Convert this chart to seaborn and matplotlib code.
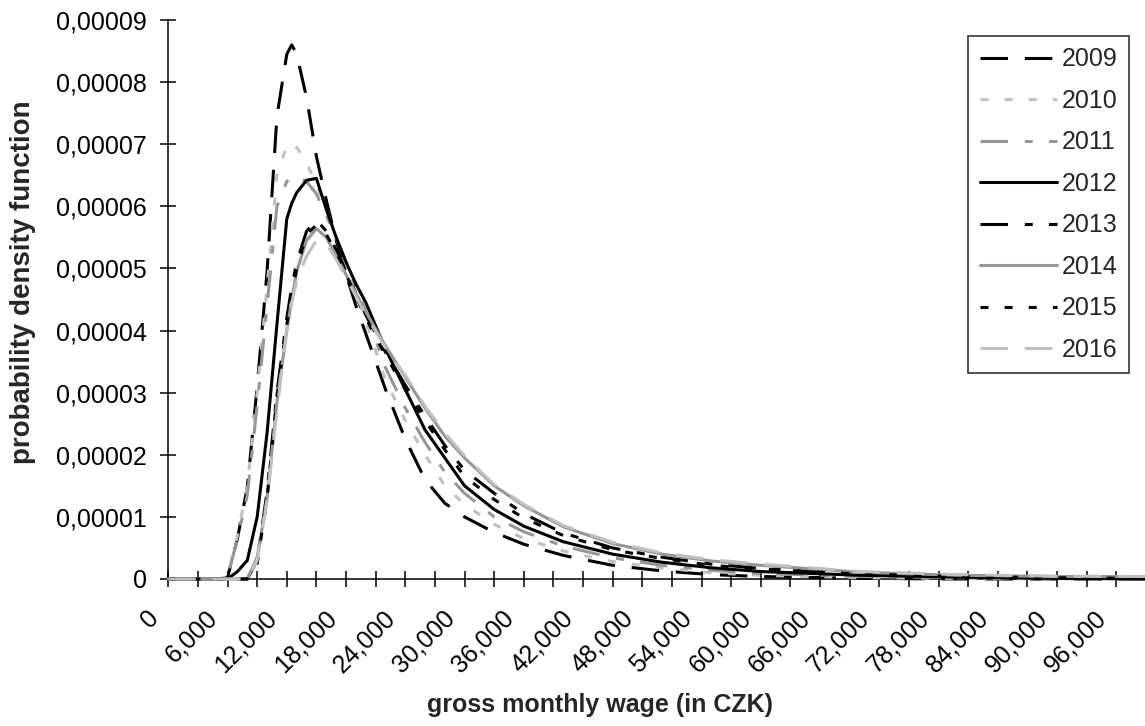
import numpy as np
import pandas as pd
import matplotlib
matplotlib.use("Agg")
import matplotlib.pyplot as plt
import matplotlib.transforms as mtransforms
from matplotlib.ticker import FuncFormatter, MultipleLocator
import seaborn as sns

# gross monthly wage grid (CZK)
wage = [0, 5000, 6000, 7000, 8000, 9000, 10000, 11000, 12000, 12500, 13000,
        14000, 15000, 16000, 17000, 18000, 19000, 20000, 22000, 24000, 26000,
        28000, 30000, 33000, 36000, 40000, 45000, 50000, 55000, 60000, 70000,
        80000, 90000, 100000]

# density values, in units of 1e-5
d2009 = [0, 0, 0.02, 0.65, 1.48, 3.1, 4.95, 7.45, 8.45, 8.6, 8.45, 7.75, 6.8,
         6.1, 5.45, 4.9, 4.4, 3.95, 3.05, 2.25, 1.6, 1.22, 1.0, 0.75, 0.56,
         0.38, 0.22, 0.13, 0.07, 0.04, 0.01, 0, 0, 0]
d2010 = [0, 0, 0.03, 0.7, 1.5, 3.0, 4.7, 6.5, 6.98, 7.02, 6.95, 6.7, 6.35,
         5.95, 5.5, 5.05, 4.6, 4.15, 3.2, 2.55, 2.0, 1.5, 1.2, 0.88, 0.65,
         0.45, 0.28, 0.18, 0.1, 0.06, 0.02, 0.01, 0, 0]
d2011 = [0, 0, 0.03, 0.65, 1.35, 2.8, 4.4, 6.0, 6.4, 6.46, 6.48, 6.4, 6.2,
         5.85, 5.5, 5.1, 4.7, 4.3, 3.4, 2.75, 2.2, 1.72, 1.38, 1.0, 0.76,
         0.53, 0.34, 0.22, 0.14, 0.09, 0.04, 0.02, 0.01, 0]
d2012 = [0, 0, 0, 0.12, 0.3, 1.0, 2.35, 4.1, 5.8, 6.05, 6.22, 6.42, 6.45,
         5.95, 5.5, 5.1, 4.75, 4.45, 3.7, 3.05, 2.4, 1.95, 1.5, 1.12, 0.85,
         0.6, 0.4, 0.27, 0.18, 0.12, 0.06, 0.03, 0.01, 0]
d2013 = [0, 0, 0, 0, 0, 0.3, 1.4, 3.0, 4.2, 4.7, 5.1, 5.6, 5.78, 5.6, 5.3,
         4.95, 4.6, 4.25, 3.65, 3.12, 2.62, 2.15, 1.75, 1.38, 1.05, 0.74, 0.5,
         0.35, 0.24, 0.17, 0.08, 0.04, 0.02, 0.01]
d2014 = [0, 0, 0, 0, 0, 0.35, 1.3, 2.85, 4.0, 4.5, 4.95, 5.45, 5.64, 5.5, 5.2,
         4.9, 4.6, 4.3, 3.75, 3.25, 2.75, 2.3, 1.95, 1.5, 1.18, 0.84, 0.57,
         0.4, 0.29, 0.22, 0.11, 0.06, 0.04, 0.04]
d2015 = [0, 0, 0, 0, 0, 0.25, 1.3, 2.95, 4.1, 4.6, 5.0, 5.55, 5.7, 5.55, 5.25,
         4.9, 4.55, 4.2, 3.6, 3.05, 2.55, 2.08, 1.65, 1.28, 0.98, 0.7, 0.47,
         0.33, 0.22, 0.16, 0.08, 0.04, 0.02, 0.01]
d2016 = [0, 0, 0, 0, 0, 0.3, 1.25, 2.7, 4.05, 4.45, 4.8, 5.2, 5.45, 5.4, 5.15,
         4.85, 4.55, 4.25, 3.72, 3.28, 2.78, 2.35, 1.98, 1.52, 1.2, 0.86, 0.59,
         0.42, 0.31, 0.24, 0.12, 0.07, 0.045, 0.04]

years = ["2009", "2010", "2011", "2012", "2013", "2014", "2015", "2016"]
series = [d2009, d2010, d2011, d2012, d2013, d2014, d2015, d2016]

BLACK, MID, LIGHT = "#000000", "#969696", "#c0c0c0"
palette = dict(zip(years, [BLACK, LIGHT, MID, BLACK, BLACK, MID, BLACK, LIGHT]))
long_dash = (9.0, 5.5)
short_dash = (2.6, 5.3)
dash_dot = (9.0, 5.5, 2.6, 5.3)
dashes = dict(zip(years, [long_dash, short_dash, dash_dot, "", dash_dot, "",
                          short_dash, long_dash]))

rows = []
for yr, vals in zip(years, series):
    for w, v in zip(wage, vals):
        rows.append({"wage": w, "density": v * 1e-5, "year": yr})
df = pd.DataFrame(rows)

sns.set_style("white")
plt.rcParams["font.family"] = ["Liberation Sans", "DejaVu Sans"]

fig = plt.figure(figsize=(11.45, 7.26), dpi=100)
ax = fig.add_axes([168.3 / 1145, 1 - 579 / 726, 1 - 168.3 / 1145, (579 - 20) / 726])

sns.lineplot(data=df, x="wage", y="density", hue="year", style="year",
             palette=palette, dashes=dashes, linewidth=2.2, legend=False,
             ax=ax, zorder=3, clip_on=False)

ax.set_xlim(0, 98900)
ax.set_ylim(0, 9e-5)
ax.xaxis.set_major_locator(MultipleLocator(3000))
ax.yaxis.set_major_locator(MultipleLocator(1e-5))


def xfmt(v, pos):
    v = int(round(v))
    if v % 6000 != 0 or v > 96000:
        return ""
    return f"{v:,}"


def yfmt(v, pos):
    if abs(v) < 1e-9:
        return "0"
    return f"{v:.5f}".replace(".", ",")


ax.xaxis.set_major_formatter(FuncFormatter(xfmt))
ax.yaxis.set_major_formatter(FuncFormatter(yfmt))
ax.tick_params(axis="both", direction="inout", length=11, width=1.1,
               color="black", labelsize=18, labelcolor="black")
ax.tick_params(axis="x", pad=14)
ax.tick_params(axis="y", pad=10)
ax.tick_params(bottom=True, left=True)
for lab in ax.get_xticklabels():
    lab.set_rotation(45)
    lab.set_ha("right")
    lab.set_transform(lab.get_transform() +
                      mtransforms.ScaledTranslation(-5 / 100, 0, fig.dpi_scale_trans))

for side in ["top", "right"]:
    ax.spines[side].set_visible(False)
for side in ["left", "bottom"]:
    ax.spines[side].set_color("black")
    ax.spines[side].set_linewidth(1.1)
ax.set_xlabel("")
ax.set_ylabel("")

fig.text(600 / 1145, 1 - 705 / 726, "gross monthly wage (in CZK)", ha="center",
         va="center", fontsize=18, fontweight="bold")
fig.text(23 / 1145, 1 - 282 / 726, "probability density function", ha="center",
         va="center", rotation=90, fontsize=20, fontweight="bold")

leg = ax.legend(ax.get_lines()[:len(years)], years, loc="upper right",
                bbox_to_anchor=(1129 / 1145, 1 - 36 / 726),
                bbox_transform=fig.transFigure, borderaxespad=0,
                frameon=True, fancybox=False, edgecolor="black", fontsize=18,
                handlelength=3.1, handletextpad=0.2, labelspacing=0.7,
                borderpad=0.45)
leg.get_frame().set_linewidth(1.2)
leg.set_zorder(5)

fig.savefig("out.png", dpi=100, facecolor="white")
